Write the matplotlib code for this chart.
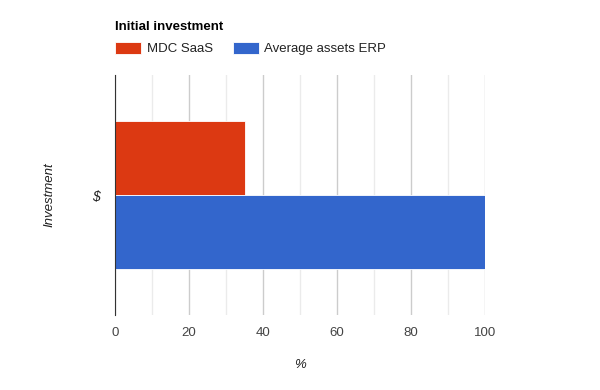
import matplotlib
matplotlib.use("Agg")
import matplotlib.pyplot as plt
from matplotlib.ticker import MultipleLocator

plt.rcParams['font.family'] = ['Liberation Sans', 'DejaVu Sans']

categories = ['$']
series_names = ['MDC SaaS', 'Average assets ERP']
series_values = [[35], [100]]
colors = ['#dc3912', '#3366cc']
x_ticks = [0, 20, 40, 60, 80, 100]

fig = plt.figure(figsize=(6, 3.9), dpi=100)
ax = fig.add_axes([115/600, 1-315/390, 370/600, 240/390])

bar_h = 0.308
offsets = [bar_h/2, -bar_h/2]
handles = []
for name, vals, c, off in zip(series_names, series_values, colors, offsets):
    pos = [i + off for i in range(len(categories))]
    b = ax.barh(pos, vals, height=bar_h, color=c, edgecolor='white', linewidth=0.6, label=name, zorder=3)
    handles.append(b)

ax.set_ylim(-0.5, 0.5)
ax.set_xlim(0, 100)
ax.set_yticks(range(len(categories)))
ax.set_yticklabels(categories, fontstyle='italic', fontsize=10)
ax.set_xticks(x_ticks)
ax.xaxis.set_minor_locator(MultipleLocator(10))
ax.grid(axis='x', which='major', color='#cccccc', linewidth=1, zorder=0)
ax.grid(axis='x', which='minor', color='#ebebeb', linewidth=1, zorder=0)
ax.tick_params(axis='x', which='both', length=0, labelsize=9.5, colors='#444444', pad=9)
ax.tick_params(axis='y', which='both', length=0, colors='#222222', pad=11)
for s in ['top', 'right', 'bottom']:
    ax.spines[s].set_visible(False)
ax.spines['left'].set_color('#333333')
ax.spines['left'].set_zorder(4)

ax.set_xlabel('%', fontstyle='italic', fontsize=9.5, color='#222222', labelpad=14)
ax.set_ylabel('Investment', fontstyle='italic', fontsize=9.5, color='#222222', labelpad=26)

fig.text(115/600, 1-27/390, 'Initial investment', fontsize=9.5, fontweight='bold', color='#000000', va='center', ha='left')
fig.legend(handles=handles, labels=series_names, ncol=2, frameon=False, loc='center left',
           bbox_to_anchor=(115/600, 1-48.5/390), bbox_transform=fig.transFigure,
           borderaxespad=0, borderpad=0, handlelength=2.0, handleheight=1.0,
           handletextpad=0.4, columnspacing=1.5, fontsize=9.5, labelcolor='#222222')

fig.savefig('out.png', dpi=100)
